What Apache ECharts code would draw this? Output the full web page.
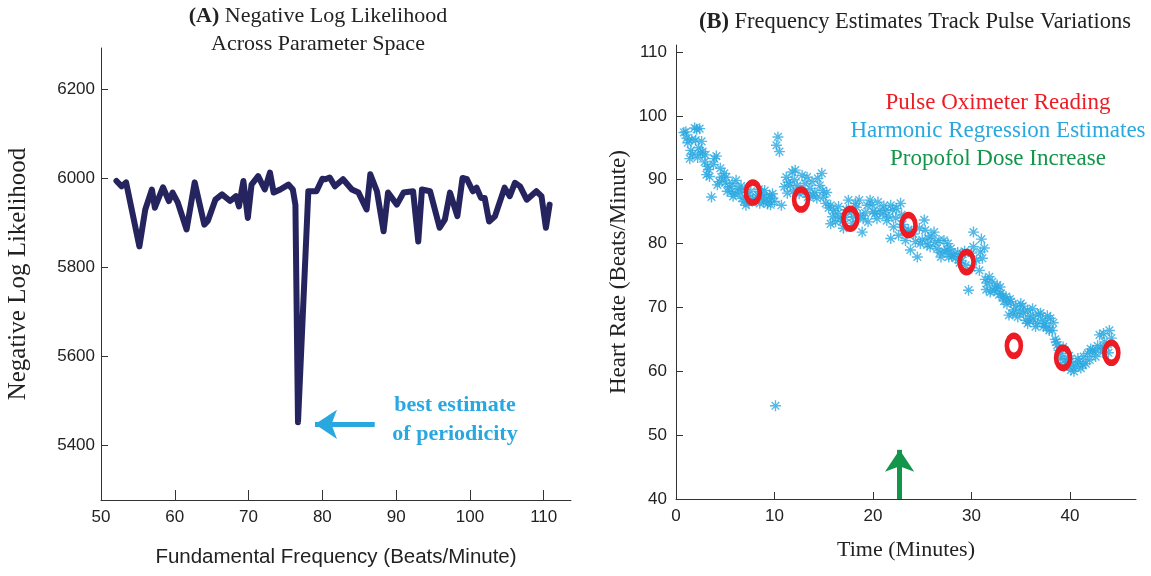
<!DOCTYPE html>
<html>
<head>
<meta charset="utf-8">
<script src="https://cdn.jsdelivr.net/npm/echarts@6/dist/echarts.min.js"></script>
<style>
  html, body { margin: 0; padding: 0; background: #fff; }
  #chart { width: 1151px; height: 576px; }
</style>
</head>
<body>
<div id="chart"></div>
<script>
// Panel A: negative log likelihood over candidate fundamental frequencies
const freqBpm = [52.1, 52.8, 53.4, 55.2, 56.0, 56.9, 57.3, 58.4, 59.2, 59.7, 60.4, 61.6, 62.7, 64.0, 64.5,
  65.5, 66.4, 67.5, 68.3, 68.7, 69.3, 69.9, 70.4, 71.3, 72.2, 72.9, 73.4, 74.3, 75.4, 76.0, 76.35, 76.7,
  78.1, 79.2, 80.0, 80.4, 81.0, 81.7, 82.8, 84.0, 84.9, 86.0, 86.5, 87.4, 88.3, 88.9, 90.1, 91.0, 92.3,
  93.0, 93.5, 94.6, 95.9, 96.6, 97.3, 98.3, 99.0, 99.6, 100.4, 100.9, 101.5, 102.0, 102.6, 103.4, 104.7,
  105.4, 106.1, 106.8, 107.7, 109.0, 109.7, 110.3, 110.8];
const negLogLik = [5994, 5982, 5991, 5847, 5930, 5975, 5934, 5980, 5949, 5968, 5946, 5885, 5991, 5896, 5905,
  5952, 5964, 5949, 5960, 5937, 5994, 5911, 5986, 6005, 5975, 6013, 5968, 5975, 5986, 5975, 5940, 5452,
  5971, 5971, 5999, 5998, 6002, 5982, 5998, 5975, 5968, 5930, 6009, 5971, 5881, 5968, 5941, 5968, 5971,
  5858, 5975, 5971, 5889, 5907, 5968, 5915, 6001, 5998, 5971, 5979, 5956, 5956, 5903, 5915, 5979,
  5960, 5990, 5982, 5952, 5971, 5960, 5889, 5941];
const nllTicks = [5400, 5600, 5800, 6000, 6200];
const freqTicks = [50, 60, 70, 80, 90, 100, 110];
const bestFreqArrow = [[87.1, 5447], [79.0, 5447]];

// Panel B: heart rate over time
const oximeterTimes = [7.8, 12.7, 17.7, 23.6, 29.5, 34.3, 39.3, 44.2];
const oximeterBpm = [88.0, 86.9, 83.9, 82.9, 77.1, 64.0, 62.1, 62.9];
const harmonicEstimates = [
  [0.8, 97.4], [1.0, 97.5], [1.1, 96.5], [1.2, 95.8], [1.4, 93.3], [1.5, 94.6], [1.6, 96.3], [1.7, 94.0],
  [1.9, 98.1], [2.1, 97.9], [2.2, 93.5], [2.4, 98.0], [2.0, 96.2], [2.3, 95.0], [2.5, 94.2], [2.6, 96.0],
  [2.7, 94.4], [2.9, 92.8], [3.0, 93.9], [3.1, 90.8], [3.2, 92.1], [3.4, 90.5], [3.3, 91.6], [3.6, 87.3],
  [3.8, 92.4], [3.9, 93.3], [4.1, 93.7], [4.2, 89.2], [4.4, 89.7], [4.5, 91.8], [4.6, 90.4], [4.9, 91.0],
  [5.1, 90.4], [5.0, 89.5], [5.2, 88.2], [5.4, 88.9], [5.6, 88.1], [5.7, 89.4], [5.8, 87.4], [6.0, 87.8],
  [6.1, 89.9], [6.3, 88.6], [6.5, 88.0], [6.6, 89.0], [6.7, 87.1], [6.9, 86.6], [7.0, 88.5], [7.1, 86.0],
  [7.3, 87.5], [7.4, 86.4], [7.6, 88.2], [7.8, 87.0], [8.1, 86.8], [8.3, 87.6], [8.4, 88.5], [8.5, 86.3],
  [8.7, 87.9], [8.8, 87.2], [8.9, 86.5], [9.0, 88.3], [9.2, 87.0], [9.3, 86.2], [9.5, 87.6], [9.7, 87.1],
  [9.8, 87.8], [9.6, 86.1], [10.0, 86.6], [10.2, 95.4], [10.35, 96.7], [10.5, 94.4], [10.1, 54.6],
  [10.7, 86.0], [11.0, 88.9], [11.2, 90.4], [11.3, 87.9], [11.4, 89.6], [11.6, 89.1], [11.8, 91.2],
  [11.9, 88.2], [12.0, 90.0], [12.1, 91.5], [12.3, 89.1], [12.5, 87.8], [12.6, 88.4], [12.8, 90.7],
  [13.0, 88.0], [13.1, 89.4], [13.3, 90.4], [13.4, 87.3], [13.6, 88.6], [13.8, 89.7], [13.9, 87.5],
  [14.1, 88.0], [14.3, 87.1], [14.4, 90.2], [14.6, 89.1], [14.8, 91.0], [14.9, 88.3], [15.0, 87.3],
  [15.2, 86.3], [15.3, 88.0], [15.5, 85.6], [15.7, 86.0], [15.7, 83.1], [15.9, 84.2], [16.0, 85.2],
  [16.2, 83.4], [16.4, 84.7], [16.5, 85.8], [16.7, 84.0], [16.9, 83.5], [17.0, 82.4], [17.2, 84.1],
  [17.3, 85.3], [17.5, 86.8], [17.8, 85.0], [17.9, 83.2], [18.0, 84.2], [18.2, 86.3], [18.3, 85.7],
  [18.6, 86.8], [18.7, 84.4], [18.9, 81.8], [19.0, 83.9], [19.2, 84.8], [19.4, 86.0], [19.5, 83.4],
  [19.7, 86.8], [19.9, 86.1], [20.0, 85.0], [20.2, 84.7], [20.4, 83.9], [20.5, 86.5], [20.7, 85.2],
  [21.0, 84.6], [21.1, 85.9], [21.3, 85.2], [21.4, 83.6], [21.6, 84.2], [21.8, 86.0], [21.8, 80.8],
  [22.0, 85.3], [22.1, 82.6], [22.3, 84.0], [22.4, 85.5], [22.6, 81.3], [22.8, 86.3], [22.9, 84.5],
  [23.0, 83.0], [23.2, 82.0], [23.3, 80.5], [23.6, 82.2], [23.8, 79.0], [23.9, 81.8], [24.1, 81.5],
  [24.3, 80.3], [24.5, 77.9], [24.7, 82.4], [24.8, 80.0], [25.0, 80.6], [25.2, 83.7], [25.3, 82.1],
  [25.5, 79.8], [25.6, 80.8], [25.8, 79.5], [25.9, 81.2], [26.2, 81.8], [26.3, 80.2], [26.5, 79.2],
  [26.7, 80.5], [26.8, 78.6], [26.9, 77.9], [27.2, 80.5], [27.3, 78.8], [27.5, 79.0], [27.6, 80.0],
  [27.7, 77.9], [27.9, 79.2], [28.0, 78.0], [28.2, 78.3], [28.4, 77.7], [28.6, 78.6], [28.8, 77.0],
  [29.0, 77.3], [29.1, 78.4], [29.3, 78.8], [29.4, 76.6], [29.7, 72.7], [30.0, 76.2], [30.0, 78.5],
  [30.2, 81.8], [30.2, 79.5], [30.5, 77.4], [30.8, 75.8], [30.9, 78.7], [31.0, 80.7], [31.1, 77.7],
  [31.3, 79.3], [31.4, 74.4], [31.5, 72.8], [31.6, 73.8], [31.8, 74.8], [31.9, 72.4], [32.1, 74.0],
  [32.3, 72.6], [32.4, 73.0], [32.6, 73.5], [32.8, 72.0], [32.9, 73.2], [33.0, 72.2], [33.2, 71.6],
  [33.3, 71.0], [33.5, 71.7], [33.6, 70.5], [33.8, 68.8], [33.9, 71.3], [34.0, 70.9], [34.2, 69.0],
  [34.3, 69.6], [34.5, 70.3], [34.7, 68.5], [34.9, 69.3], [35.0, 70.6], [35.2, 70.2], [35.3, 69.1],
  [35.5, 68.0], [35.7, 69.6], [35.7, 67.5], [35.9, 67.8], [36.0, 68.7], [36.2, 69.8], [36.3, 68.2],
  [36.5, 67.0], [36.7, 67.5], [36.8, 68.9], [37.0, 69.1], [37.2, 68.0], [37.3, 67.0], [37.5, 67.5],
  [37.6, 66.9], [37.7, 68.7], [37.9, 66.4], [38.0, 68.3], [38.2, 66.4], [38.3, 67.6], [38.5, 65.0],
  [38.6, 64.6], [38.7, 64.1], [38.9, 63.3], [39.0, 62.0], [39.1, 62.8], [39.3, 63.8], [39.4, 60.8],
  [39.5, 61.8], [39.7, 61.5], [39.8, 60.9], [39.9, 62.4], [40.1, 60.2], [40.3, 61.3], [40.4, 60.0],
  [40.6, 60.7], [40.8, 62.0], [40.9, 61.5], [41.1, 60.5], [41.3, 61.0], [41.4, 62.3], [41.6, 61.2],
  [41.8, 62.8], [42.0, 61.8], [42.1, 63.5], [42.3, 63.3], [42.5, 63.0], [42.6, 62.3], [42.8, 64.0],
  [43.0, 65.7], [43.1, 63.6], [43.3, 63.0], [43.4, 65.9], [43.5, 64.6], [43.7, 63.8], [43.9, 62.9],
  [44.0, 66.4], [44.2, 65.2]
];
const bpmTicks = [40, 50, 60, 70, 80, 90, 100, 110];
const timeTicks = [0, 10, 20, 30, 40];
const doseIncreaseArrow = [[22.7, 40], [22.7, 47.7]];

const SERIF = "'Liberation Serif', 'Times New Roman', serif";
const SANS = "'Liberation Sans', Arial, sans-serif";
const NAVY = '#26245e';
const SKY = '#29a8e0';
const RED = '#ed1c24';
const GREEN = '#13964a';
const AXIS = '#333';
const INK = '#222';

const asterisk = 'path://M5,0L5,10M0,5L10,5M1.5,1.5L8.5,8.5M1.5,8.5L8.5,1.5';
const plain = v => String(v);

const chart = echarts.init(document.getElementById('chart'), null, { renderer: 'canvas' });

function valueAxis(ticks, tickLen, labelMargin, extra) {
  return Object.assign({
    type: 'value',
    splitLine: { show: false },
    axisLine: { show: true, lineStyle: { color: AXIS, width: 1 } },
    axisTick: { show: true, inside: true, length: tickLen, lineStyle: { color: AXIS }, customValues: ticks },
    axisLabel: { customValues: ticks, formatter: plain, fontFamily: SANS, fontSize: 17, color: INK, margin: labelMargin },
    nameLocation: 'middle'
  }, extra);
}

chart.setOption({
  backgroundColor: '#fff',
  animation: false,
  grid: [
    { left: 101, top: 48, width: 470, bottom: 76 },
    { left: 676, top: 45, width: 460, bottom: 77 }
  ],
  xAxis: [
    valueAxis(freqTicks, 10, 9, {
      gridIndex: 0, min: 50, max: 113.7,
      name: 'Fundamental Frequency (Beats/Minute)', nameGap: 47,
      nameTextStyle: { fontFamily: SANS, fontSize: 20.5, color: INK }
    }),
    valueAxis(timeTicks, 7, 9, {
      gridIndex: 1, min: 0, max: 46.7,
      name: 'Time (Minutes)', nameGap: 40,
      nameTextStyle: { fontFamily: SERIF, fontSize: 22, color: INK }
    })
  ],
  yAxis: [
    valueAxis(nllTicks, 7, 6, {
      gridIndex: 0, min: 5277, max: 6293,
      name: 'Negative Log Likelihood', nameGap: 70,
      nameTextStyle: { fontFamily: SERIF, fontSize: 25, color: INK }
    }),
    valueAxis(bpmTicks, 7, 9, {
      gridIndex: 1, min: 40, max: 111.1,
      name: 'Heart Rate (Beats/Minute)', nameGap: 46,
      nameTextStyle: { fontFamily: SERIF, fontSize: 23, color: INK }
    })
  ],
  graphic: [
    {
      type: 'text', x: 318, y: 2,
      style: {
        text: '{b|(A)} Negative Log Likelihood\nAcross Parameter Space',
        align: 'center', fontFamily: SERIF, fontSize: 22, lineHeight: 28, fill: INK,
        rich: { b: { fontWeight: 'bold', fontFamily: SERIF, fontSize: 22, fill: INK } }
      }
    },
    {
      type: 'text', x: 915, y: 11,
      style: {
        text: '{b|(B)} Frequency Estimates Track Pulse Variations',
        align: 'center', fontFamily: SERIF, fontSize: 22.5, fill: INK,
        rich: { b: { fontWeight: 'bold', fontFamily: SERIF, fontSize: 22.5, fill: INK } }
      }
    },
    {
      type: 'text', x: 455, y: 391,
      style: {
        text: 'best estimate\nof periodicity', align: 'center', fontFamily: SERIF, fontWeight: 'bold',
        fontSize: 22, lineHeight: 29, fill: SKY
      }
    },
    { type: 'text', x: 998, y: 91, style: { text: 'Pulse Oximeter Reading', align: 'center', fontFamily: SERIF, fontSize: 23, fill: RED } },
    { type: 'text', x: 998, y: 119, style: { text: 'Harmonic Regression Estimates', align: 'center', fontFamily: SERIF, fontSize: 23, fill: SKY } },
    { type: 'text', x: 998, y: 147, style: { text: 'Propofol Dose Increase', align: 'center', fontFamily: SERIF, fontSize: 23, fill: GREEN } }
  ],
  series: [
    {
      type: 'line', xAxisIndex: 0, yAxisIndex: 0,
      data: freqBpm.map((f, i) => [f, negLogLik[i]]),
      showSymbol: false, symbol: 'none',
      lineStyle: { color: NAVY, width: 6, join: 'round', cap: 'round' },
      markLine: {
        silent: true, symbol: ['none', 'arrow'], symbolSize: [22, 22],
        lineStyle: { color: SKY, width: 5, type: 'solid' },
        label: { show: false },
        data: [[{ coord: bestFreqArrow[0] }, { coord: bestFreqArrow[1] }]]
      }
    },
    {
      type: 'scatter', xAxisIndex: 1, yAxisIndex: 1,
      data: harmonicEstimates,
      symbol: asterisk, symbolSize: 11,
      itemStyle: { color: 'rgba(0,0,0,0)', borderColor: SKY, borderWidth: 1.4 }
    },
    {
      type: 'scatter', xAxisIndex: 1, yAxisIndex: 1,
      data: oximeterTimes.map((t, i) => [t, oximeterBpm[i]]),
      symbol: 'circle', symbolSize: [14, 20],
      itemStyle: { color: 'rgba(0,0,0,0)', borderColor: RED, borderWidth: 5.5, opacity: 1 },
      z: 3
    },
    {
      type: 'line', xAxisIndex: 1, yAxisIndex: 1, data: [], symbol: 'none',
      markLine: {
        silent: true, symbol: ['none', 'arrow'], symbolSize: [22, 22],
        lineStyle: { color: GREEN, width: 5, type: 'solid' },
        label: { show: false },
        data: [[{ coord: doseIncreaseArrow[0] }, { coord: doseIncreaseArrow[1] }]]
      }
    }
  ]
});
</script>
</body>
</html>
